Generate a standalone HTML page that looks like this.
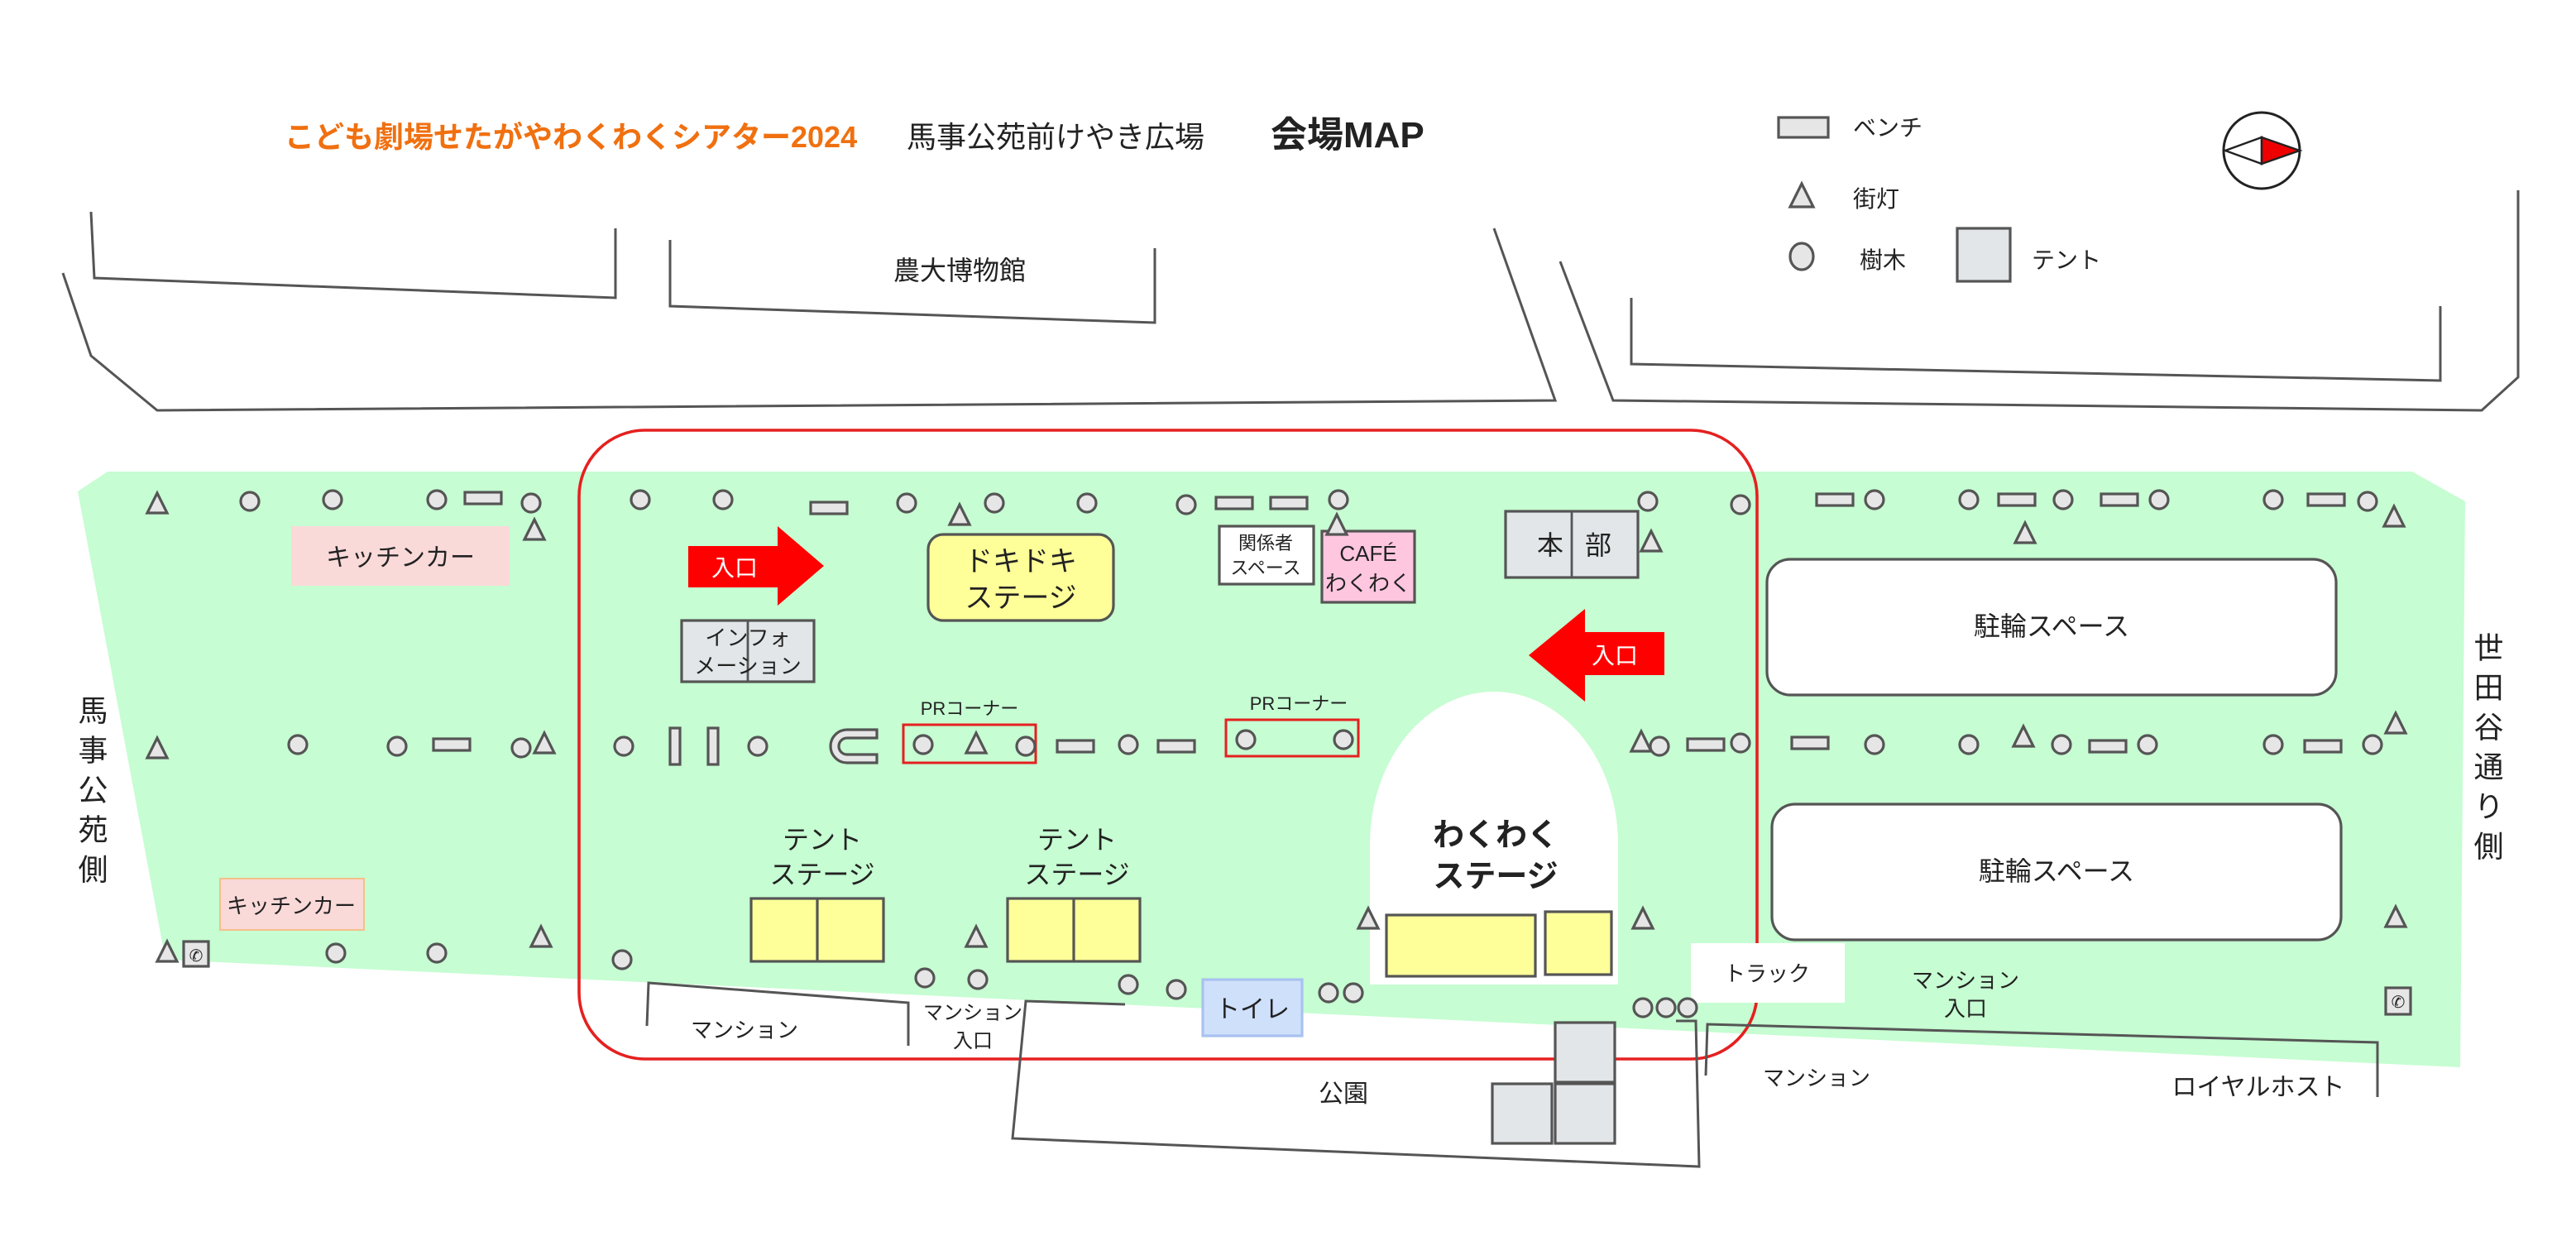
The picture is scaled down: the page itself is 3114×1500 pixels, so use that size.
<!DOCTYPE html>
<html><head><meta charset="utf-8"><style>
html,body{margin:0;padding:0;background:#fff}
svg{display:block}
text{font-family:"Liberation Sans","Noto Sans CJK JP",sans-serif;fill:#222}
.o{fill:#e6e6e6;stroke:#555;stroke-width:1.6}
.l{fill:none;stroke:#555;stroke-width:1.5}
</style></head><body>
<svg width="3114" height="1500" viewBox="0 0 1557 750" xmlns="http://www.w3.org/2000/svg">
<defs>
<circle id="c" r="5.5" class="o"/>
<polygon id="t" points="0,-7 6,5 -6,5" class="o"/>
<rect id="b" x="-11" y="-3.5" width="22" height="7" class="o"/>
</defs>
<!-- titles -->
<text x="172" y="89" font-size="18" font-weight="bold" style="fill:#f07010">こども劇場せたがやわくわくシアター2024</text>
<text x="548" y="89" font-size="18">馬事公苑前けやき広場</text>
<text x="768" y="89" font-size="22" font-weight="bold">会場MAP</text>
<!-- legend -->
<rect x="1075" y="71" width="30" height="12" class="o"/>
<text x="1120" y="82" font-size="14">ベンチ</text>
<polygon points="1089,111 1096,125 1082,125" class="o"/>
<text x="1120" y="125" font-size="14">街灯</text>
<ellipse cx="1089" cy="155" rx="7" ry="8" class="o"/>
<text x="1124" y="162" font-size="14">樹木</text>
<rect x="1183" y="138" width="32" height="32" style="fill:#e2e6e8;stroke:#555;stroke-width:1.6"/>
<text x="1228" y="162" font-size="14">テント</text>
<ellipse cx="1367" cy="91" rx="23" ry="23" fill="#fff" stroke="#222" stroke-width="1.5"/>
<polygon points="1345,91 1367,83 1367,99" fill="#fff" stroke="#222" stroke-width="1.2"/>
<polygon points="1367,83 1390,91 1367,99" fill="#e00" stroke="#222" stroke-width="1.2"/>
<!-- buildings -->
<polyline class="l" points="55,128 57,168 372,180 372,138"/>
<polyline class="l" points="405,145 405,185 698,195 698,150"/>
<text x="580" y="169" font-size="16" text-anchor="middle">農大博物館</text>
<polyline class="l" points="38,165 55,215 95,248 940,242 903,138"/>
<polyline class="l" points="943,158 975,242 1500,248 1522,228 1522,115"/>
<polyline class="l" points="986,180 986,220 1475,230 1475,185"/>
<!-- green area -->
<polygon points="47,297 65,285 1458,285 1490,303 1487,645 100,580" fill="#c6fdd2"/>
<!-- red boundary -->
<rect x="350" y="260" width="712" height="380" rx="40" fill="none" stroke="#e52020" stroke-width="1.8"/>
<!-- white areas -->
<path d="M828,595 L828,510 A75,92 0 0 1 978,510 L978,595 Z" fill="#fff"/>
<rect x="1022" y="570" width="93" height="36" fill="#fff"/>
<text x="1068" y="593" font-size="13" text-anchor="middle">トラック</text>
<!-- bottom lines -->
<polyline class="l" points="391,620 392,594 549,606 549,632"/>
<text x="450" y="627" font-size="13" text-anchor="middle">マンション</text>
<text x="588" y="616" font-size="12" text-anchor="middle">マンション</text>
<text x="588" y="633" font-size="12" text-anchor="middle">入口</text>
<polyline class="l" points="680,607 620,605 612,688 1027,705 1025,617 1013,617"/>
<text x="812" y="666" font-size="15" text-anchor="middle">公園</text>
<rect x="940" y="618" width="36" height="36" style="fill:#e2e6e8;stroke:#555;stroke-width:1.6"/>
<rect x="902" y="655" width="36" height="36" style="fill:#e2e6e8;stroke:#555;stroke-width:1.6"/>
<rect x="940" y="655" width="36" height="36" style="fill:#e2e6e8;stroke:#555;stroke-width:1.6"/>
<polyline class="l" points="1031,650 1032,619 1437,630 1437,663"/>
<text x="1098" y="656" font-size="13" text-anchor="middle">マンション</text>
<text x="1188" y="597" font-size="13" text-anchor="middle">マンション</text>
<text x="1188" y="614" font-size="13" text-anchor="middle">入口</text>
<text x="1365" y="662" font-size="15" text-anchor="middle">ロイヤルホスト</text>
<!-- side labels -->
<text x="55" y="420" font-size="18" style="writing-mode:vertical-rl;letter-spacing:6px">馬事公苑側</text>
<text x="1503" y="382" font-size="18" style="writing-mode:vertical-rl;letter-spacing:6px">世田谷通り側</text>
<!-- kitchen cars -->
<rect x="176" y="318" width="132" height="36" fill="#fad9d9"/>
<text x="242" y="342" font-size="15" text-anchor="middle">キッチンカー</text>
<rect x="133" y="531" width="87" height="31" fill="#fad9d9" stroke="#f4c08a" stroke-width="1"/>
<text x="176" y="552" font-size="13" text-anchor="middle">キッチンカー</text>
<!-- arrows -->
<polygon points="416,330 470,330 470,318 498,342 470,366 470,355 416,355" fill="#f00"/>
<text x="444" y="348" font-size="14" text-anchor="middle" style="fill:#fff">入口</text>
<polygon points="1006,382 958,382 958,368 924,396 958,424 958,408 1006,408" fill="#f00"/>
<text x="976" y="401" font-size="14" text-anchor="middle" style="fill:#fff">入口</text>
<!-- stages etc -->
<rect x="561" y="323" width="112" height="52" rx="9" fill="#ffff99" stroke="#555" stroke-width="1.6"/>
<text x="617" y="345" font-size="17" text-anchor="middle">ドキドキ</text>
<text x="617" y="367" font-size="17" text-anchor="middle">ステージ</text>
<rect x="412" y="375" width="80" height="37" fill="#e2e6e8" stroke="#555" stroke-width="1.6"/>
<line x1="452" y1="375" x2="452" y2="412" stroke="#555" stroke-width="1.4"/>
<text x="452" y="390" font-size="13" text-anchor="middle">インフォ</text>
<text x="452" y="407" font-size="13" text-anchor="middle">メーション</text>
<rect x="737" y="318" width="57" height="35" fill="#fff" stroke="#555" stroke-width="1.6"/>
<text x="765" y="332" font-size="11" text-anchor="middle">関係者</text>
<text x="765" y="347" font-size="11" text-anchor="middle">スペース</text>
<rect x="799" y="321" width="56" height="43" fill="#ffc6e0" stroke="#555" stroke-width="1.6"/>
<text x="827" y="339" font-size="13" text-anchor="middle">CAFÉ</text>
<text x="827" y="357" font-size="13" text-anchor="middle">わくわく</text>
<rect x="910" y="309" width="80" height="40" fill="#e2e6e8" stroke="#555" stroke-width="1.6"/>
<line x1="950" y1="309" x2="950" y2="349" stroke="#555" stroke-width="1.4"/>
<text x="937" y="335" font-size="16" text-anchor="middle">本</text>
<text x="966" y="335" font-size="16" text-anchor="middle">部</text>
<text x="497" y="513" font-size="16" text-anchor="middle">テント</text>
<text x="497" y="534" font-size="16" text-anchor="middle">ステージ</text>
<rect x="454" y="543" width="80" height="38" fill="#ffff99" stroke="#555" stroke-width="1.6"/>
<line x1="494" y1="543" x2="494" y2="581" stroke="#555" stroke-width="1.6"/>
<text x="651" y="513" font-size="16" text-anchor="middle">テント</text>
<text x="651" y="534" font-size="16" text-anchor="middle">ステージ</text>
<rect x="609" y="543" width="80" height="38" fill="#ffff99" stroke="#555" stroke-width="1.6"/>
<line x1="649" y1="543" x2="649" y2="581" stroke="#555" stroke-width="1.6"/>
<text x="904" y="511" font-size="19" font-weight="bold" text-anchor="middle">わくわく</text>
<text x="904" y="536" font-size="19" font-weight="bold" text-anchor="middle">ステージ</text>
<rect x="838" y="553" width="90" height="37" fill="#ffff99" stroke="#555" stroke-width="1.6"/>
<rect x="934" y="551" width="40" height="38" fill="#ffff99" stroke="#555" stroke-width="1.6"/>
<rect x="727" y="592" width="60" height="34" fill="#cfe0fb" stroke="#a8c2f0" stroke-width="1.6"/>
<text x="757" y="615" font-size="15" text-anchor="middle">トイレ</text>
<rect x="1068" y="338" width="344" height="82" rx="14" fill="#fff" stroke="#555" stroke-width="1.6"/>
<text x="1240" y="384" font-size="16" text-anchor="middle">駐輪スペース</text>
<rect x="1071" y="486" width="344" height="82" rx="14" fill="#fff" stroke="#555" stroke-width="1.6"/>
<text x="1243" y="532" font-size="16" text-anchor="middle">駐輪スペース</text>
<!-- PR -->
<text x="586" y="432" font-size="11" text-anchor="middle">PRコーナー</text>
<rect x="546" y="438" width="80" height="23" fill="none" stroke="#e52020" stroke-width="1.5"/>
<text x="785" y="429" font-size="11" text-anchor="middle">PRコーナー</text>
<rect x="741" y="435" width="80" height="22" fill="none" stroke="#e52020" stroke-width="1.5"/>
<!-- U shape -->
<path d="M530,441 L512,441 A10,10 0 0 0 512,461 L530,461 L530,456 L512,456 A5,5 0 0 1 512,446 L530,446 Z" class="o"/>
<rect x="405" y="440" width="6" height="22" class="o"/>
<rect x="428" y="440" width="6" height="22" class="o"/>
<!-- phones -->
<rect x="111" y="569" width="15" height="15" class="o"/><text x="118.5" y="581" font-size="10" text-anchor="middle">✆</text>
<rect x="1442" y="597" width="15" height="16" class="o"/><text x="1449.5" y="609" font-size="10" text-anchor="middle">✆</text>
<!-- trees -->
<g>
<use href="#c" x="151" y="303"/><use href="#c" x="201" y="302"/><use href="#c" x="264" y="302"/><use href="#c" x="321" y="304"/>
<use href="#c" x="387" y="302"/><use href="#c" x="437" y="302"/><use href="#c" x="548" y="304"/><use href="#c" x="601" y="304"/><use href="#c" x="657" y="304"/>
<use href="#c" x="717" y="305"/><use href="#c" x="809" y="302"/><use href="#c" x="996" y="303"/><use href="#c" x="1052" y="305"/>
<use href="#c" x="1133" y="302"/><use href="#c" x="1190" y="302"/><use href="#c" x="1247" y="302"/><use href="#c" x="1305" y="302"/><use href="#c" x="1374" y="302"/><use href="#c" x="1431" y="303"/>
<use href="#c" x="180" y="450"/><use href="#c" x="240" y="451"/><use href="#c" x="315" y="452"/><use href="#c" x="377" y="451"/><use href="#c" x="458" y="451"/>
<use href="#c" x="558" y="450"/><use href="#c" x="620" y="451"/><use href="#c" x="682" y="450"/><use href="#c" x="753" y="447"/><use href="#c" x="812" y="447"/>
<use href="#c" x="1003" y="451"/><use href="#c" x="1052" y="449"/><use href="#c" x="1133" y="450"/><use href="#c" x="1190" y="450"/><use href="#c" x="1246" y="450"/><use href="#c" x="1298" y="450"/><use href="#c" x="1374" y="450"/><use href="#c" x="1434" y="450"/>
<use href="#c" x="203" y="576"/><use href="#c" x="264" y="576"/><use href="#c" x="376" y="580"/><use href="#c" x="559" y="591"/><use href="#c" x="591" y="592"/>
<use href="#c" x="682" y="595"/><use href="#c" x="711" y="598"/><use href="#c" x="803" y="600"/><use href="#c" x="818" y="600"/>
<use href="#c" x="993" y="609"/><use href="#c" x="1007" y="609"/><use href="#c" x="1020" y="609"/>
</g>
<!-- lights -->
<g>
<use href="#t" x="95" y="305"/><use href="#t" x="323" y="321"/><use href="#t" x="580" y="312"/><use href="#t" x="808" y="318"/><use href="#t" x="998" y="328"/><use href="#t" x="1224" y="323"/><use href="#t" x="1447" y="313"/>
<use href="#t" x="95" y="453"/><use href="#t" x="329" y="450"/><use href="#t" x="590" y="450"/><use href="#t" x="992" y="449"/><use href="#t" x="1223" y="446"/><use href="#t" x="1448" y="438"/>
<use href="#t" x="101" y="576"/><use href="#t" x="327" y="567"/><use href="#t" x="590" y="567"/><use href="#t" x="827" y="556"/><use href="#t" x="993" y="556"/><use href="#t" x="1448" y="555"/>
</g>
<!-- benches -->
<g>
<use href="#b" x="292" y="301"/><use href="#b" x="501" y="307"/><use href="#b" x="746" y="304"/><use href="#b" x="779" y="304"/>
<use href="#b" x="1109" y="302"/><use href="#b" x="1219" y="302"/><use href="#b" x="1281" y="302"/><use href="#b" x="1406" y="302"/>
<use href="#b" x="273" y="450"/><use href="#b" x="650" y="451"/><use href="#b" x="711" y="451"/><use href="#b" x="1031" y="450"/><use href="#b" x="1094" y="449"/><use href="#b" x="1274" y="451"/><use href="#b" x="1404" y="451"/>
</g>
</svg>
</body></html>
